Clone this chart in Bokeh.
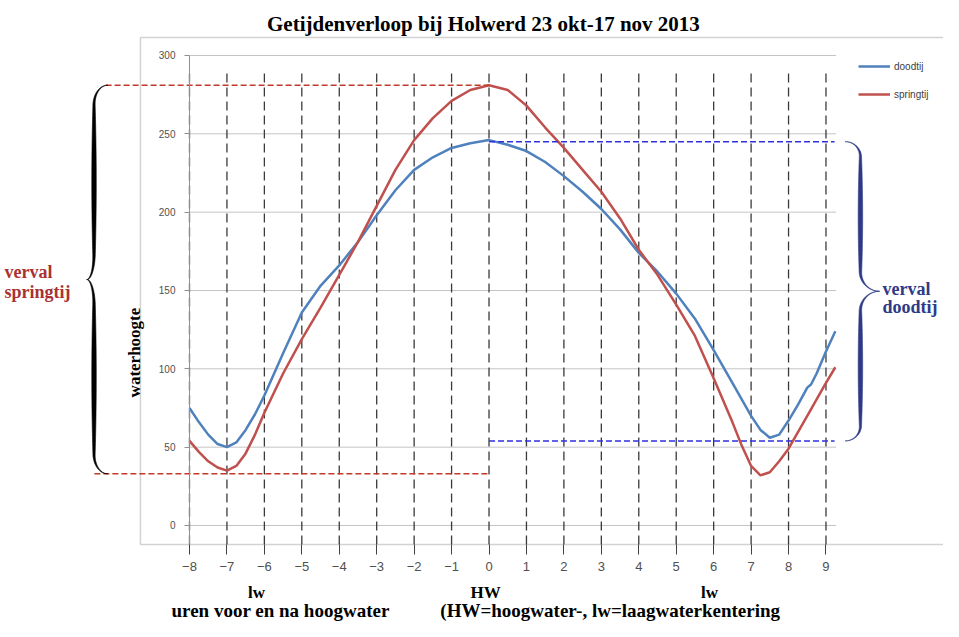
import numpy as np
from bokeh.plotting import figure
from bokeh.models import (Range1d, FixedTicker, Label, Legend, LegendItem)
from bokeh.embed import file_html
from bokeh.resources import INLINE

# ---------------- data ----------------
hours_dood = [-8, -7.75, -7.5, -7.25, -7, -6.75, -6.5, -6.25, -6, -5.5, -5, -4.5, -4,
              -3.5, -3, -2.5, -2, -1.5, -1, -0.5, 0, 0.5, 1, 1.5, 2, 2.5, 3, 3.5, 4,
              4.5, 5, 5.5, 6, 6.5, 7, 7.25, 7.5, 7.75, 8, 8.25, 8.5, 8.6, 8.75, 9, 9.25]
doodtij = [75, 66, 58, 52, 50, 53, 61, 71, 83, 110, 136, 153, 166,
           181, 198, 214, 227, 235, 241, 244, 246, 243, 239, 232, 223, 213, 202, 189, 174,
           162, 148, 132, 112, 91, 70, 61, 56, 58, 67, 77, 88, 90, 97, 111, 124]

hours_spring = [-8, -7.75, -7.5, -7.25, -7, -6.75, -6.5, -6.25, -6, -5.5, -5, -4.5, -4,
                -3.5, -3, -2.5, -2, -1.5, -1, -0.5, 0, 0.5, 1, 1.5, 2, 2.5, 3, 3.5, 4,
                4.5, 5, 5.5, 6, 6.5, 6.75, 7, 7.25, 7.5, 7.75, 8, 8.5, 9, 9.25]
springtij = [54, 47, 41, 37, 35, 38, 46, 58, 72, 97, 119, 139, 160,
             181, 204, 227, 246, 260, 271, 278, 281, 278, 268, 254, 241, 227, 213, 196, 176,
             160, 141, 121, 94, 66, 51, 38, 32, 34, 41, 49, 70, 91, 101]

x_ticks = list(range(-8, 10))
y_ticks = [0, 50, 100, 150, 200, 250, 300]

spring_hw, spring_lw = 281, 33     # verval springtij
neap_hw, neap_lw = 245, 54         # verval doodtij

X_MIN, X_MAX = -8, 9.27            # plot area
Y_MIN, Y_MAX = -12.1, 300

SERIF = "Liberation Serif"
SANS = "Liberation Sans"
BLUE = "#4f81bd"
RED = "#c0504d"
DASHRED = "#c0392b"
DASHBLUE = "#3030e0"
DARKRED = "#a83232"
NAVY = "#2e3a86"

# ---------------- figure ----------------
p = figure(width=943, height=621, x_range=Range1d(-13.048, 12.139),
           y_range=Range1d(-61.28, 335.1),
           output_backend="svg", toolbar_location=None, min_border=0)
p.outline_line_color = None
p.background_fill_color = "white"
p.border_fill_color = "white"
p.xgrid.visible = False
p.ygrid.visible = False

# axes fixed at the plot-area edges
p.xaxis.fixed_location = Y_MIN
p.yaxis.fixed_location = X_MIN
p.xaxis.ticker = FixedTicker(ticks=x_ticks)
p.yaxis.ticker = FixedTicker(ticks=y_ticks)
p.xaxis.minor_tick_line_color = None
p.yaxis.minor_tick_line_color = None
p.xaxis.major_tick_in = 0
p.xaxis.major_tick_out = 10
p.xaxis.major_tick_line_color = "#404040"
p.xaxis.axis_line_color = None
p.xaxis.major_label_standoff = 8
p.xaxis.major_label_text_font = SANS
p.xaxis.major_label_text_font_size = "13px"
p.xaxis.major_label_text_color = "#505050"
p.yaxis.bounds = (Y_MIN, Y_MAX)
p.yaxis.major_tick_in = 0
p.yaxis.major_tick_out = 5
p.yaxis.axis_line_color = "#909090"
p.yaxis.major_tick_line_color = "#909090"
p.yaxis.major_label_standoff = 9
p.yaxis.major_label_text_font = SANS
p.yaxis.major_label_text_font_size = "10px"
p.yaxis.major_label_text_color = "#505050"

# chart box
p.quad(left=-9.31, right=13, top=311.5, bottom=Y_MIN, fill_color=None,
       line_color="#d2d2d2", line_width=1.5)

# grid lines from tick lists
p.segment(x0=X_MIN, x1=X_MAX, y0=y_ticks, y1=y_ticks, line_color="#c4c4c4", line_width=1)
p.segment(x0=x_ticks, x1=x_ticks, y0=Y_MIN, y1=290, line_color="#3a3a3a",
          line_width=1.3, line_dash="9 5")

# curves
r_dood = p.line(hours_dood, doodtij, line_color=BLUE, line_width=2.5)
r_spring = p.line(hours_spring, springtij, line_color=RED, line_width=2.5)

# reference dashed lines
p.line([-10.24, 0], [spring_hw, spring_hw], line_color=DASHRED, line_width=1.5, line_dash="6 3")
p.line([-10.54, 0], [spring_lw, spring_lw], line_color=DASHRED, line_width=1.5, line_dash="6 3")
p.line([0, 9.23], [neap_hw, neap_hw], line_color=DASHBLUE, line_width=1.5, line_dash="6 3")
p.line([0, 9.23], [neap_lw, neap_lw], line_color=DASHBLUE, line_width=1.5, line_dash="6 3")


def brace(x_tip, x_body, x_pt, y_top, y_bot, a=0.1, b=0.13, w_max=0.12, w_min=0.02, n=160):
    y_mid = (y_top + y_bot) / 2.0
    t = (1 - np.cos(np.linspace(0, np.pi, n))) / 2
    f = np.where(t < a, 1 - np.sqrt(np.clip(1 - (1 - t / a) ** 2, 0, 1)), 0.0)
    v = (t - (1 - b)) / b
    g = np.where(t > 1 - b, 1 - np.sqrt(np.clip(1 - v ** 2, 0, 1)), 0.0)
    xu = x_body + (x_tip - x_body) * f + (x_pt - x_body) * g
    wu = w_min + (w_max - w_min) * np.sin(np.pi * t) ** 0.8
    yu = y_top - t * (y_top - y_mid)
    yl = y_bot + t[::-1] * (y_mid - y_bot)
    xc = np.concatenate([xu, xu[::-1][1:]])
    wc = np.concatenate([wu, wu[::-1][1:]])
    yc = np.concatenate([yu, yl[1:]])
    xs = np.concatenate([xc - wc / 2, (xc + wc / 2)[::-1]])
    ys = np.concatenate([yc, yc[::-1]])
    return xs, ys


bx, by = brace(-10.19, -10.55, -10.74, spring_hw, spring_lw)
p.patch(bx, by, fill_color="black", line_color="black", line_width=0.6)
bx2, by2 = brace(9.52, 9.92, 10.43, neap_hw, neap_lw)
p.patch(bx2, by2, fill_color=NAVY, line_color=NAVY, line_width=0.6)


# texts
def lab(x, y, text, size, color="black", align="left", baseline="alphabetic", angle=0.0,
        font=SERIF, style="bold"):
    p.add_layout(Label(x=x, y=y, text=text, text_font=font, text_font_style=style,
                       text_font_size=size, text_color=color, text_align=align,
                       text_baseline=baseline, angle=angle))


lab(-0.15, 319.8, "Getijdenverloop bij Holwerd 23 okt-17 nov 2013", "21px",
    align="center", baseline="middle")
lab(-9.47, 110.4, "waterhoogte", "17px", align="center", baseline="middle", angle=np.pi / 2)
lab(-12.94, 161.5, "verval", "18px", color=DARKRED)
lab(-12.94, 148.8, "springtij", "18px", color=DARKRED)
lab(10.51, 151.0, "verval", "18px", color=NAVY)
lab(10.51, 139.2, "doodtij", "18px", color=NAVY)
lab(-6.21, -43.0, "lw", "17px", align="center", baseline="middle")
lab(-0.09, -43.0, "HW", "17px", align="center", baseline="middle")
lab(5.89, -43.0, "lw", "17px", align="center", baseline="middle")
lab(-8.48, -54.4, "uren voor en na hoogwater", "19px", baseline="middle")
lab(-1.30, -54.4, "(HW=hoogwater-, lw=laagwaterkentering", "19px", baseline="middle")

# legend
legend = Legend(items=[LegendItem(label="doodtij", renderers=[r_dood]),
                       LegendItem(label="springtij", renderers=[r_spring])],
                location=(858, 519), border_line_color=None, background_fill_alpha=0,
                label_text_font=SANS, label_text_font_size="10px", label_text_color="#404040",
                glyph_width=32, glyph_height=16, label_height=16, spacing=12,
                padding=4, margin=0, label_standoff=4)
p.add_layout(legend)

open("out.html", "w").write(file_html(p, INLINE))
